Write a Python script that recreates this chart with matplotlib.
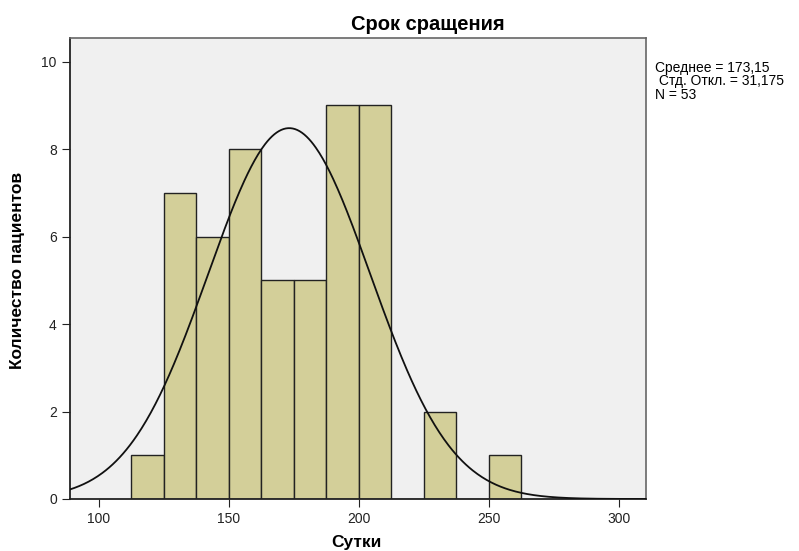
import numpy as np
import matplotlib
matplotlib.use("Agg")
import matplotlib.pyplot as plt

bin_edges = [112.5, 125, 137.5, 150, 162.5, 175, 187.5, 200, 212.5, 225, 237.5, 250, 262.5]
counts = [1, 7, 6, 8, 5, 5, 9, 9, 0, 2, 0, 1]
mean_val = 173.15
std_val = 31.175
n_val = 53
x_ticks = [100, 150, 200, 250, 300]
y_ticks = [0, 2, 4, 6, 8, 10]

plt.rcParams['font.family'] = ['Liberation Sans', 'DejaVu Sans']

fig = plt.figure(figsize=(7.99, 5.51), dpi=100)
ax = fig.add_axes([70/799, 1-499/551, (646-70)/799, (499-37.5)/551])
ax.set_facecolor('#f0f0f0')

lefts = bin_edges[:-1]
widths = np.diff(bin_edges)
ax.bar(lefts, counts, width=widths, align='edge', color='#d3cf99',
       edgecolor='#222222', linewidth=1.0, zorder=2)

bw = bin_edges[1] - bin_edges[0]
xs = np.linspace(88.85, 310.4, 500)
ys = n_val * bw / (std_val * np.sqrt(2*np.pi)) * np.exp(-0.5*((xs-mean_val)/std_val)**2)
ax.plot(xs, ys, color='#111111', linewidth=1.3, zorder=3)

ax.set_xlim(88.85, 310.4)
ax.set_ylim(0, 10.55)
ax.set_xticks(x_ticks)
ax.set_yticks(y_ticks)
ax.tick_params(direction='out', length=6, labelsize=10, colors='#222222')
for s in ['top', 'right']:
    ax.spines[s].set_color('#666666')
    ax.spines[s].set_linewidth(1.2)
for s in ['left', 'bottom']:
    ax.spines[s].set_color('#222222')
    ax.spines[s].set_linewidth(1.3)

fig.text(428/799, 1-25/551, 'Срок сращения', ha='center', va='center',
         fontsize=14.5, fontweight='bold')
fig.text(356/799, 1-543/551, 'Сутки', ha='center', va='center',
         fontsize=12.5, fontweight='bold')
fig.text(18/799, 1-270/551, 'Количество пациентов', ha='center', va='center',
         fontsize=12.5, fontweight='bold', rotation=90)
fig.text(655/799, 1-61/551,
         'Среднее = 173,15\n Стд. Откл. = 31,175\nN = 53',
         ha='left', va='top', fontsize=10, linespacing=0.95)

fig.savefig('out.png', dpi=100, facecolor='white')
